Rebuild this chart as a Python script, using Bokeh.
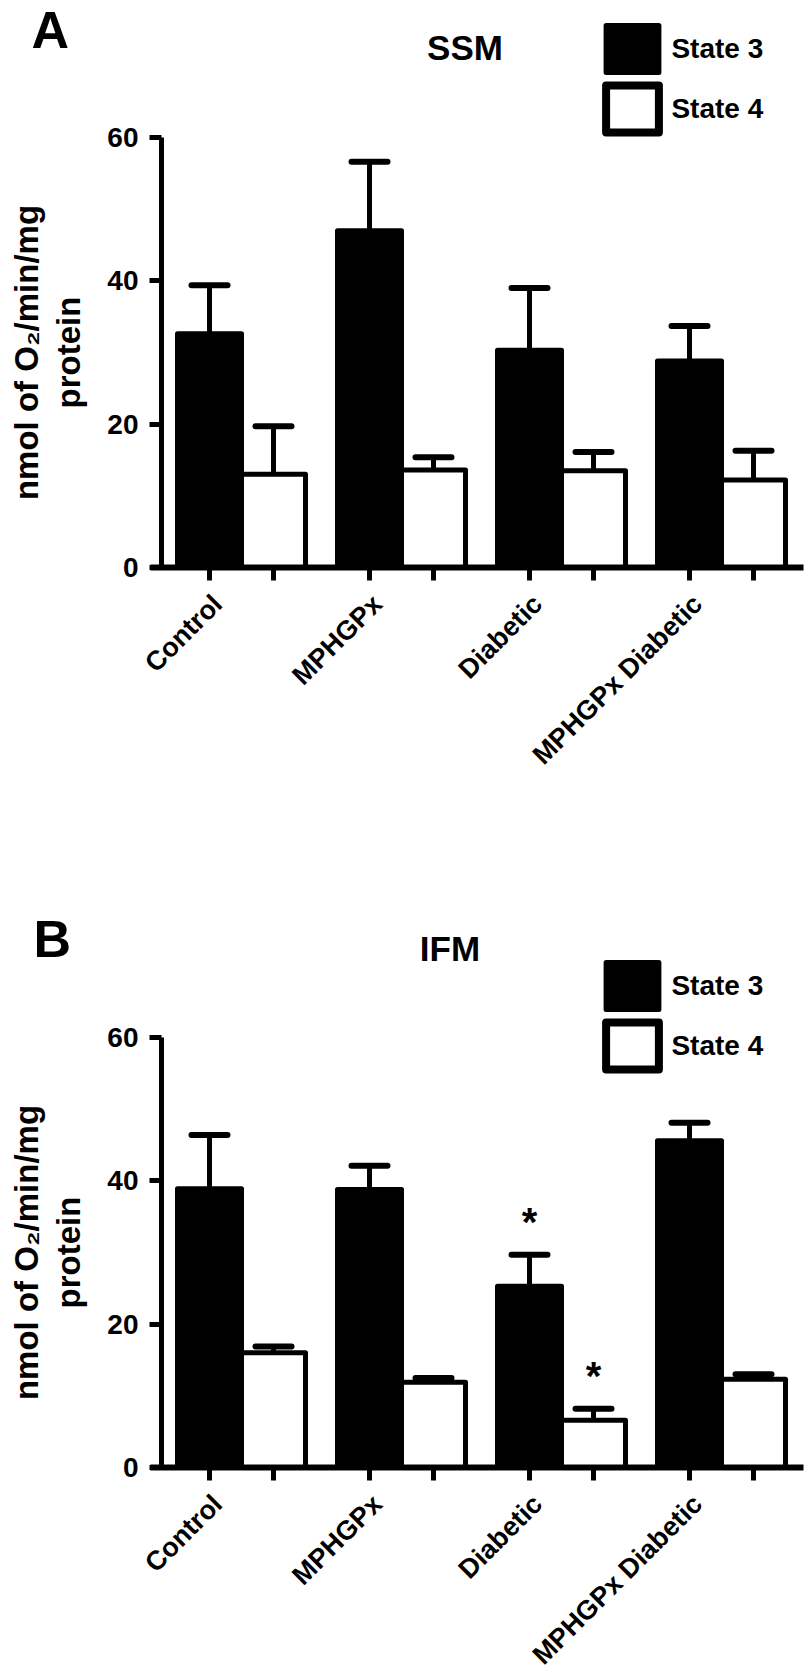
import math
from bokeh.plotting import figure
from bokeh.models import (Range1d, FixedTicker, Label, Legend, LegendItem,
                          ColumnDataSource, Whisker, TeeHead)
from bokeh.layouts import column
from bokeh.embed import file_html
from bokeh.resources import INLINE
from bokeh.core.properties import value

# ---------------- data ----------------
groups = ["Control", "MPHGPx", "Diabetic", "MPHGPx Diabetic"]
series = ["State 3", "State 4"]

ssm_state3 = [32.6, 47.0, 30.3, 28.8]
ssm_state3_sem = [6.8, 9.6, 8.7, 4.9]
ssm_state4 = [13.0, 13.6, 13.5, 12.2]
ssm_state4_sem = [6.7, 1.8, 2.6, 4.1]

ifm_state3 = [38.9, 38.8, 25.3, 45.6]
ifm_state3_sem = [7.5, 3.3, 4.4, 2.5]
ifm_state4 = [16.0, 11.9, 6.6, 12.3]
ifm_state4_sem = [0.9, 0.6, 1.6, 0.7]
ifm_state3_sig = [False, False, True, False]
ifm_state4_sig = [False, False, True, False]

y_ticks = [0, 20, 40, 60]
y_label_lines = ["nmol of O\u2082/min/mg", "protein"]

# ---------------- layout constants (pixels) ----------------
FONT = "Liberation Sans"
W = 812
PX_GROUP = 160.0          # px between groups
GROUP0_PX = 209.0         # px of first State-3 bar centre
YAXIS_PX = 161.0          # px of the y axis line
PX_UNIT = 430.0 / 60.0    # px per y unit
BAR_W = 0.4
OFF4 = 0.4


def make_panel(letter, title, s3, e3, s4, e4, sig3, sig4, height, y0_px,
               title_cx, title_base, letter_x, letter_base, leg_top):
    def dx(fx):
        return (fx - GROUP0_PX) / PX_GROUP

    def dy(fy):
        return (y0_px - fy) / PX_UNIT

    p = figure(width=W, height=height,
               x_range=Range1d(dx(0), dx(W)),
               y_range=Range1d(dy(height), dy(0)),
               min_border=0, min_border_left=0, min_border_right=0,
               min_border_top=0, min_border_bottom=0,
               toolbar_location=None, output_backend="svg", title=None)
    p.outline_line_color = None
    p.xgrid.visible = False
    p.ygrid.visible = False

    x3 = [i for i in range(len(groups))]
    x4 = [i + OFF4 for i in range(len(groups))]

    p.vbar(x=x3, top=s3, bottom=0, width=BAR_W, fill_color="black",
           line_color="black", line_width=5, line_join="round")
    p.vbar(x=x4, top=s4, bottom=0, width=BAR_W, fill_color="white",
           line_color="black", line_width=5, line_join="round")

    src = ColumnDataSource(dict(
        base=x3 + x4,
        lower=list(s3) + list(s4),
        upper=[v + e for v, e in zip(s3, e3)] + [v + e for v, e in zip(s4, e4)],
    ))
    wh = Whisker(base="base", lower="lower", upper="upper", source=src,
                 line_color="black", line_width=5, lower_head=None,
                 upper_head=TeeHead(size=36, line_width=6, line_color="black",
                                    line_cap="round"),
                 level="annotation")
    p.add_layout(wh)

    # significance stars
    sx, sy = [], []
    for i in range(len(groups)):
        if sig3[i]:
            sx.append(x3[i]); sy.append(s3[i] + e3[i])
        if sig4[i]:
            sx.append(x4[i]); sy.append(s4[i] + e4[i])
    if sx:
        p.text(x=sx, y=sy, text=["*"] * len(sx), text_font=value(FONT),
               text_font_size=value("40px"), text_font_style="bold",
               text_align="center", text_baseline="alphabetic", y_offset=-33,
               text_color="black")

    # legend proxies: zero-size bars hidden inside the first (black) bar
    mid = s3[0] / 2
    r3 = p.vbar(x=[x3[0]], top=[mid], bottom=[mid], width=0,
                fill_color="black", line_color="black", line_width=5,
                line_join="round")
    r4 = p.vbar(x=[x3[0]], top=[mid], bottom=[mid], width=0,
                fill_color="white", line_color="black", line_width=8,
                line_join="round")
    gw, gh, pad, spacing = 66, 59, 8, 1
    box_h = 2 * pad + 2 * gh + spacing
    box_left = (605 - 6.6) - pad + 9
    box_bottom = leg_top + box_h
    leg = Legend(items=[LegendItem(label=series[0], renderers=[r3]),
                        LegendItem(label=series[1], renderers=[r4])],
                 location=(box_left, height - box_bottom), margin=0,
                 padding=pad, spacing=spacing,
                 glyph_width=gw, glyph_height=gh, label_standoff=6,
                 label_width=115, label_height=gh,
                 label_text_font=FONT, label_text_font_size="28px",
                 label_text_font_style="bold", label_text_color="black",
                 border_line_color=None, background_fill_alpha=0)
    p.add_layout(leg)

    # axes (fixed inside the frame)
    xa = p.xaxis[0]
    xa.fixed_location = 0
    xa.bounds = (dx(150), dx(803))
    xa.ticker = FixedTicker(ticks=sorted(x3 + x4))
    xa.major_label_overrides = {t: "" for t in sorted(x3 + x4)}
    xa.major_label_text_color = None
    xa.major_tick_in = 0
    xa.major_tick_out = 13
    xa.major_tick_line_width = 5
    xa.major_tick_line_color = "black"
    xa.minor_tick_line_color = None
    xa.axis_line_width = 6
    xa.axis_line_color = "black"

    ya = p.yaxis[0]
    ya.fixed_location = dx(YAXIS_PX)
    ya.ticker = FixedTicker(ticks=y_ticks)
    ya.bounds = (0, 60)
    ya.major_tick_in = 0
    ya.major_tick_out = 12
    ya.major_tick_line_width = 5
    ya.major_tick_line_color = "black"
    ya.minor_tick_line_color = None
    ya.axis_line_width = 5
    ya.axis_line_color = "black"
    ya.major_label_text_font = FONT
    ya.major_label_text_font_size = "28px"
    ya.major_label_text_font_style = "bold"
    ya.major_label_text_color = "black"
    ya.major_label_standoff = 11

    # y label (two lines, centred on the 0-60 span)
    for txt, fx in zip(y_label_lines, [26, 68]):
        p.add_layout(Label(x=dx(fx), y=30, text=txt, angle=math.pi / 2,
                           text_align="center", text_baseline="middle",
                           text_font=FONT, text_font_size="33px",
                           text_font_style="bold", text_color="black"))

    # category labels
    for i, g in enumerate(groups):
        p.add_layout(Label(x=x3[i] + 8 / PX_GROUP, y=dy(y0_px + 32),
                           text=g, angle=math.pi / 4, text_align="right",
                           text_baseline="middle", text_font=FONT,
                           text_font_size="27px", text_font_style="bold",
                           text_color="black"))

    # title and panel letter
    p.add_layout(Label(x=dx(title_cx), y=dy(title_base), text=title,
                       text_align="center", text_baseline="alphabetic",
                       text_font=FONT, text_font_size="35px",
                       text_font_style="bold", text_color="black"))
    p.add_layout(Label(x=dx(letter_x), y=dy(letter_base), text=letter,
                       text_align="left", text_baseline="alphabetic",
                       text_font=FONT, text_font_size="52px",
                       text_font_style="bold", text_color="black"))
    return p


pA = make_panel("A", "SSM", ssm_state3, ssm_state3_sem, ssm_state4, ssm_state4_sem,
                [False] * 4, [False] * 4, 908, 567, 464.5, 47, 31, 29, 3)
pB = make_panel("B", "IFM", ifm_state3, ifm_state3_sem, ifm_state4, ifm_state4_sem,
                ifm_state3_sig, ifm_state4_sig, 772, 559, 449.5, 40, 33, 30, 32)

layout = column(pA, pB, spacing=0)
open("out.html", "w").write(file_html(layout, INLINE))
